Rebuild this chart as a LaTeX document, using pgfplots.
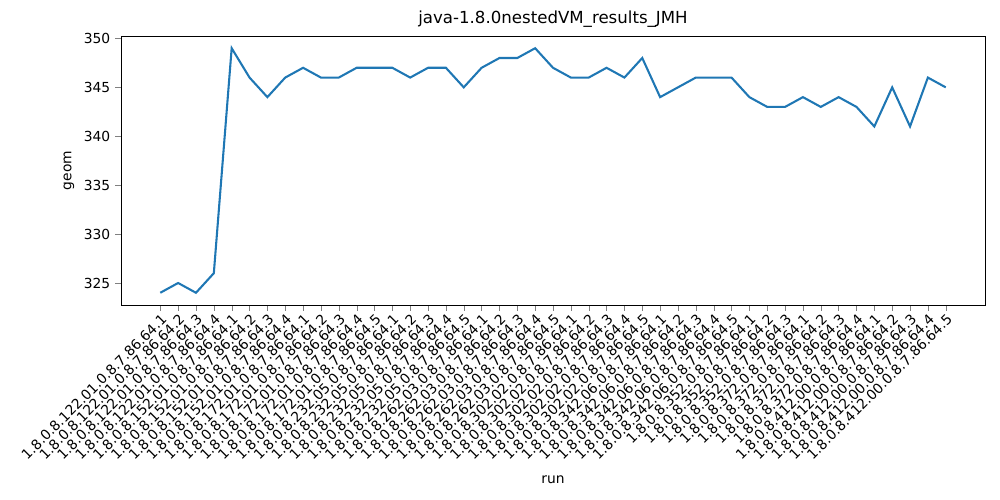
\documentclass[border=0pt]{standalone}
\usepackage{pgfplots}
\pgfplotsset{compat=1.18}
\usepackage{fontspec}
\setmainfont{DejaVu Sans}
\definecolor{mplblue}{HTML}{1F77B4}
\begin{document}
\begin{tikzpicture}
\useasboundingbox (0,0) rectangle (10in,5in);
\begin{axis}[
  at={(1.21in,1.95in)}, anchor=south west,
  scale only axis, width=8.64in, height=2.69in,
  xmin=-2.2, xmax=46.2, ymin=322.75, ymax=350.25,
  ytick={325,330,335,340,345,350},
  xtick={0,...,44},
  xticklabels={1.8.0.8.122.01.0.8.7.86.64.1,1.8.0.8.122.01.0.8.7.86.64.2,1.8.0.8.122.01.0.8.7.86.64.3,1.8.0.8.122.01.0.8.7.86.64.4,
  1.8.0.8.152.01.0.8.7.86.64.1,1.8.0.8.152.01.0.8.7.86.64.2,1.8.0.8.152.01.0.8.7.86.64.3,1.8.0.8.152.01.0.8.7.86.64.4,
  1.8.0.8.172.01.0.8.7.86.64.1,1.8.0.8.172.01.0.8.7.86.64.2,1.8.0.8.172.01.0.8.7.86.64.3,1.8.0.8.172.01.0.8.7.86.64.4,1.8.0.8.172.01.0.8.7.86.64.5,
  1.8.0.8.232.05.0.8.7.86.64.1,1.8.0.8.232.05.0.8.7.86.64.2,1.8.0.8.232.05.0.8.7.86.64.3,1.8.0.8.232.05.0.8.7.86.64.4,1.8.0.8.232.05.0.8.7.86.64.5,
  1.8.0.8.262.03.0.8.7.86.64.1,1.8.0.8.262.03.0.8.7.86.64.2,1.8.0.8.262.03.0.8.7.86.64.3,1.8.0.8.262.03.0.8.7.86.64.4,1.8.0.8.262.03.0.8.7.86.64.5,
  1.8.0.8.302.02.0.8.7.86.64.1,1.8.0.8.302.02.0.8.7.86.64.2,1.8.0.8.302.02.0.8.7.86.64.3,1.8.0.8.302.02.0.8.7.86.64.4,1.8.0.8.302.02.0.8.7.86.64.5,
  1.8.0.8.342.06.0.8.7.86.64.1,1.8.0.8.342.06.0.8.7.86.64.2,1.8.0.8.342.06.0.8.7.86.64.3,1.8.0.8.342.06.0.8.7.86.64.4,1.8.0.8.342.06.0.8.7.86.64.5,
  1.8.0.8.352.0.8.7.86.64.1,1.8.0.8.352.0.8.7.86.64.2,1.8.0.8.352.0.8.7.86.64.3,
  1.8.0.8.372.0.8.7.86.64.1,1.8.0.8.372.0.8.7.86.64.2,1.8.0.8.372.0.8.7.86.64.3,1.8.0.8.372.0.8.7.86.64.4,
  1.8.0.8.412.00.0.8.7.86.64.1,1.8.0.8.412.00.0.8.7.86.64.2,1.8.0.8.412.00.0.8.7.86.64.3,1.8.0.8.412.00.0.8.7.86.64.4,1.8.0.8.412.00.0.8.7.86.64.5},
  xticklabel style={rotate=45, anchor=north east, font=\fontsize{10}{12}\selectfont, inner sep=1pt},
  yticklabel style={font=\fontsize{10}{12}\selectfont},
  /pgf/number format/assume math mode=true,
  tick align=outside, tick pos=left,
  xlabel={run}, ylabel={geom},
  label style={font=\fontsize{10}{12}\selectfont},
  xlabel style={yshift=-6pt},
  title={java-1.8.0nestedVM\_results\_JMH},
  title style={font=\fontsize{12}{14}\selectfont, yshift=-3pt},
]
\addplot[mplblue, line width=1.5pt, mark=none] coordinates {
(0,324)(1,325)(2,324)(3,326)(4,349)(5,346)(6,344)(7,346)(8,347)(9,346)(10,346)(11,347)(12,347)(13,347)(14,346)(15,347)(16,347)(17,345)(18,347)(19,348)(20,348)(21,349)(22,347)(23,346)(24,346)(25,347)(26,346)(27,348)(28,344)(29,345)(30,346)(31,346)(32,346)(33,344)(34,343)(35,343)(36,344)(37,343)(38,344)(39,343)(40,341)(41,345)(42,341)(43,346)(44,345)};
\end{axis}
\end{tikzpicture}
\end{document}
